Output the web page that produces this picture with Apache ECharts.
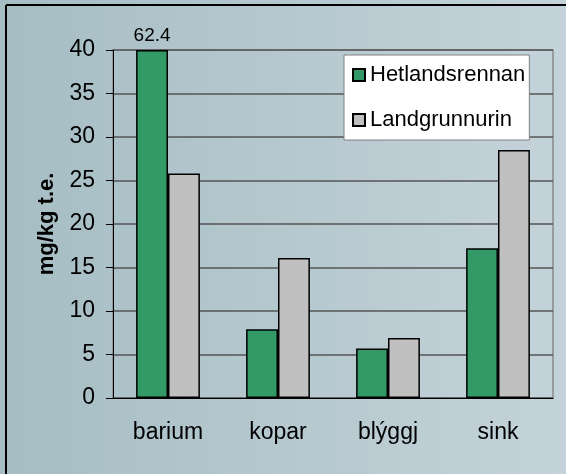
<!DOCTYPE html>
<html>
<head>
<meta charset="utf-8">
<style>
  html, body { margin: 0; padding: 0; }
  #chart { width: 566px; height: 474px; }
</style>
<script src="https://cdn.jsdelivr.net/npm/echarts@6/dist/echarts.min.js"></script>
</head>
<body>
<div id="chart"></div>
<script>
const categories = ['barium', 'kopar', 'blýggj', 'sink']
const hetlandsrennan = [62.4, 7.9, 5.7, 17.2]
const landgrunnurin = [25.8, 16.1, 6.9, 28.5]
const Y_MAX = 40

const FONT = '"Liberation Sans", Arial, sans-serif'

// values above the axis max are cut at the top like the original, with the real value written above
function clipped(values) {
  return values.map(v => ({
    value: Math.min(v, Y_MAX),
    real: v,
    label: { show: v > Y_MAX }
  }))
}

const chart = echarts.init(document.getElementById('chart'))

chart.setOption({
  backgroundColor: new echarts.graphic.LinearGradient(0, 0, 1, 0, [
    { offset: 0, color: '#a6bdc4' },
    { offset: 1, color: '#c4d3d9' }
  ]),
  textStyle: { fontFamily: FONT },
  graphic: [
    { type: 'line', shape: { x1: 6, y1: 5, x2: 6, y2: 474 }, style: { stroke: '#000', lineWidth: 2 } },
    { type: 'line', shape: { x1: 6, y1: 5, x2: 566, y2: 5 }, style: { stroke: '#000', lineWidth: 2 } }
  ],
  grid: {
    left: 113, right: 13, top: 50, bottom: 76,
    show: true, borderColor: '#8a8a8a', borderWidth: 1.5
  },
  legend: {
    orient: 'vertical',
    left: 344, top: 55,
    padding: [8, 4, 8, 8],
    backgroundColor: '#fff',
    borderColor: '#808080',
    borderWidth: 1,
    icon: 'rect',
    itemWidth: 12, itemHeight: 12,
    itemGap: 21,
    textStyle: { fontSize: 22, color: '#000', fontFamily: FONT, lineHeight: 24 }
  },
  xAxis: {
    type: 'category',
    data: categories,
    axisLine: { lineStyle: { color: '#000', width: 1 } },
    axisTick: { length: 6, lineStyle: { color: '#000' } },
    axisLabel: { fontSize: 23, color: '#000', margin: 23 }
  },
  yAxis: {
    type: 'value',
    min: 0, max: Y_MAX, interval: 5,
    name: 'mg/kg t.e.',
    nameLocation: 'middle',
    nameRotate: 90,
    nameGap: 55,
    nameTextStyle: { fontSize: 22, fontWeight: 'bold', color: '#000' },
    axisLine: { show: true, lineStyle: { color: '#000', width: 1 } },
    axisTick: { show: true, length: 7, lineStyle: { color: '#000' } },
    axisLabel: { fontSize: 23, color: '#000', margin: 18 },
    splitLine: { lineStyle: { color: '#555', width: 1.5 } }
  },
  series: [
    {
      name: 'Hetlandsrennan',
      type: 'bar',
      data: clipped(hetlandsrennan),
      barGap: '0%',
      barCategoryGap: '42%',
      itemStyle: { color: '#339966', borderColor: '#000', borderWidth: 1.5 },
      label: {
        position: 'top', distance: 5, fontSize: 19, color: '#000',
        formatter: p => p.data.real
      }
    },
    {
      name: 'Landgrunnurin',
      type: 'bar',
      data: landgrunnurin,
      itemStyle: { color: '#c0c0c0', borderColor: '#000', borderWidth: 1.5 }
    }
  ]
})
</script>
</body>
</html>
